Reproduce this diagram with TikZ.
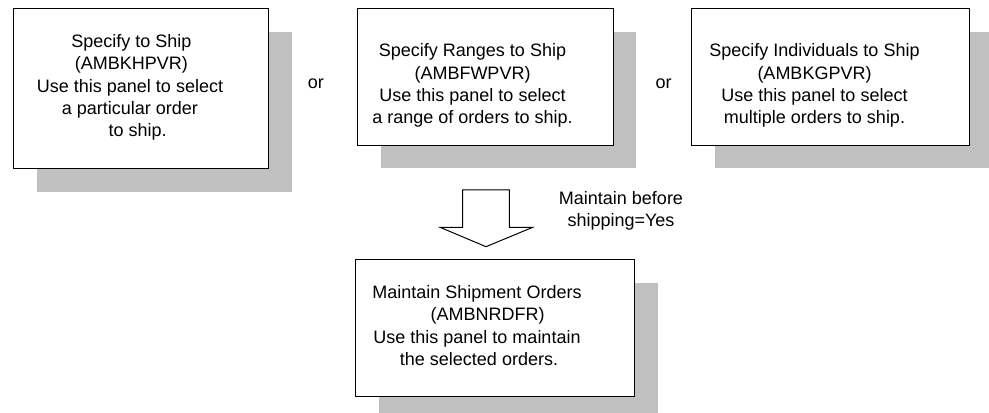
\documentclass[tikz,border=0pt]{standalone}
\usepackage{fontspec}
\setmainfont{Liberation Sans}
\usetikzlibrary{shadows}
\definecolor{shadowgray}{HTML}{C0C0C0}
\begin{document}
\begin{tikzpicture}[x=0.75pt,y=-0.75pt,
  panel/.style={draw=black, line width=0.75pt, fill=white, inner sep=0pt, anchor=north west,
     general shadow={fill=shadowgray, shadow xshift=17.5pt, shadow yshift=-17.25pt}},
  paneltext/.style={font=\fontsize{13.5}{16.7}\selectfont, align=center, inner sep=0pt, anchor=north},
  note/.style={font=\fontsize{13.5}{16.7}\selectfont, inner sep=0pt}]
\useasboundingbox (0,0) rectangle (989,413);
\node[panel, minimum width=191.5pt, minimum height=119.8pt] (b1) at (12.7,8.3) {};
\node[panel, minimum width=191.5pt, minimum height=102.5pt] (b2) at (357.3,8.3) {};
\node[panel, minimum width=209pt, minimum height=102.5pt] (b3) at (690.7,8.3) {};
\node[panel, minimum width=209.25pt, minimum height=102.5pt] (b4) at (355,259.3) {};
\node[paneltext] (t1) at (130,34.3) {\hspace*{2pt}Specify to Ship\\\hspace*{2pt}(AMBKHPVR)\\Use this panel to select\hspace*{6pt}\\a particular order\hspace*{1.8pt}\\\hspace*{11.5pt}to ship.};
\node[paneltext] (t2) at (472.5,43.5) {Specify Ranges to Ship\\(AMBFWPVR)\\Use this panel to select\\a range of orders to ship.};
\node[paneltext] (t3) at (814.5,43.5) {Specify Individuals to Ship\\(AMBKGPVR)\\Use this panel to select\\multiple orders to ship.};
\node[paneltext] (t4) at (477,285.2) {Maintain Shipment Orders\\\hspace*{16pt}(AMBNRDFR)\\Use this panel to maintain\hspace*{5pt}\\\hspace*{3pt}the selected orders.};
\node[paneltext] (cond) at (621,190.8) {Maintain before\\shipping=Yes};
\node[note, anchor=base] (or1) at (315.8,88.3) {or};
\node[note, anchor=base] (or2) at (663.5,88.3) {or};
\draw[line width=0.75pt, fill=white, line join=miter]
  (462.7,190) -- (509.3,190) -- (509.3,227.3) -- (532.7,227.3) -- (486,246.7)
  -- (440,227.3) -- (462.7,227.3) -- cycle;
\end{tikzpicture}
\end{document}
